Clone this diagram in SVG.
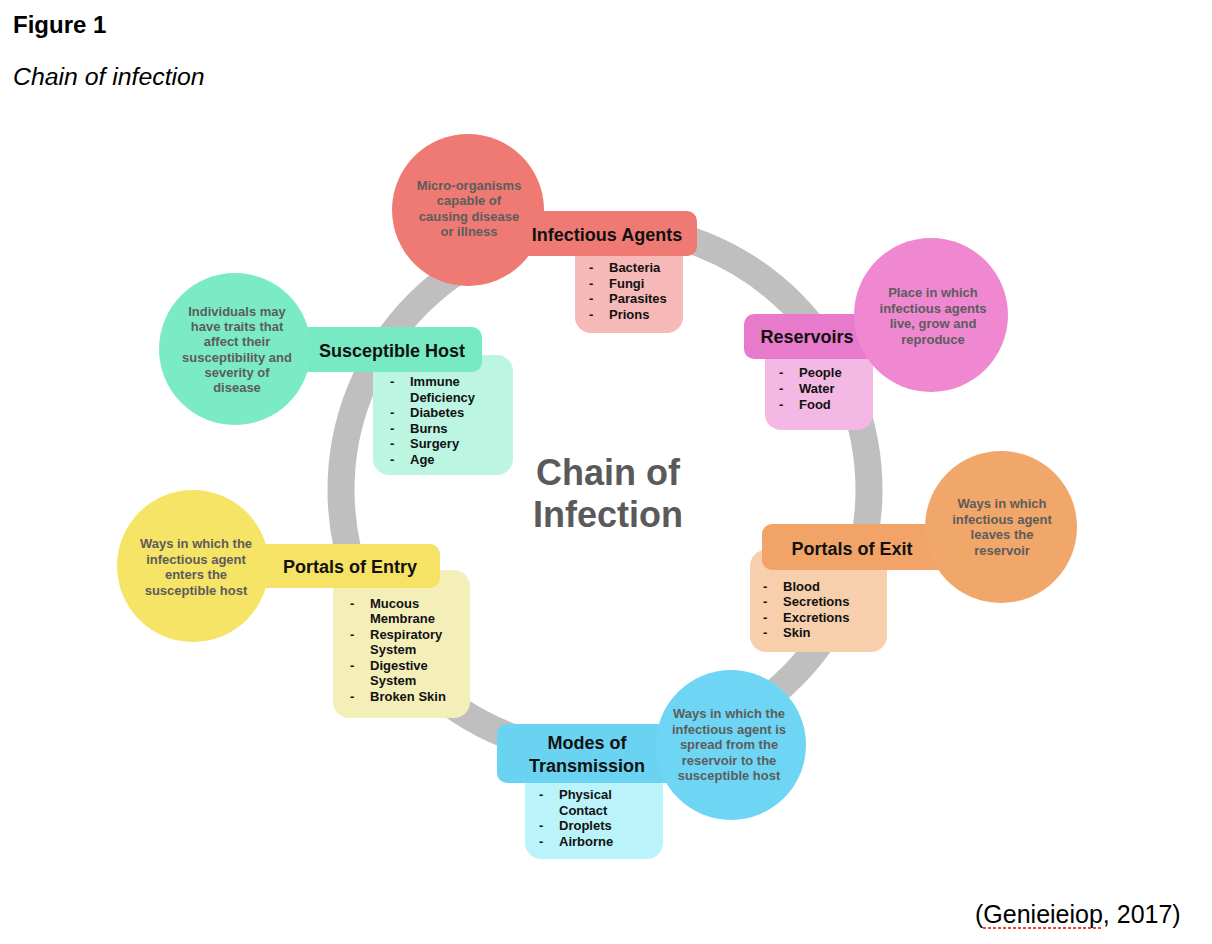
<svg xmlns="http://www.w3.org/2000/svg" width="1212" height="944" viewBox="0 0 1212 944">
<style>
text{font-family:"Liberation Sans",Arial,sans-serif}
.lbl{font-size:18px;font-weight:bold;fill:#111;text-anchor:middle}
.desc{font-size:13px;font-weight:bold;fill:#5c5c5c;text-anchor:middle}
.item{font-size:13px;font-weight:bold;fill:#111}
.hdr{fill:#000}
.center{font-size:36px;font-weight:bold;fill:#5a5a5a;text-anchor:middle}
</style>
<rect width="1212" height="944" fill="#fff"/>
<text class="hdr" x="13" y="33" style="font-size:24px;font-weight:bold">Figure 1</text>
<text class="hdr" x="13" y="85" style="font-size:24.8px;font-style:italic">Chain of infection</text>
<g id="connectors">
<circle cx="605" cy="490" r="264" fill="none" stroke="#BFBFBF" stroke-width="27"/>
</g>
<g id="center-title">
<text class="center" x="608" y="485">Chain of</text>
<text class="center" x="608" y="527">Infection</text>
</g>
<g id="infectious-agents">
<rect x="575" y="240" width="108" height="93" rx="16" fill="#F6B9B7"/>
<rect x="470" y="211" width="227" height="45" rx="10" fill="#EF7A73"/>
<circle cx="468" cy="210" r="76" fill="#EF7A73"/>
<text class="lbl" x="607" y="241">Infectious Agents</text>
<text class="desc"><tspan x="469" y="190">Micro-organisms</tspan><tspan x="469" y="205">capable of</tspan><tspan x="469" y="221">causing disease</tspan><tspan x="469" y="236">or illness</tspan></text>
<text class="item"><tspan x="589" y="272">-</tspan><tspan x="609" y="272">Bacteria</tspan><tspan x="589" y="288">-</tspan><tspan x="609" y="288">Fungi</tspan><tspan x="589" y="303">-</tspan><tspan x="609" y="303">Parasites</tspan><tspan x="589" y="319">-</tspan><tspan x="609" y="319">Prions</tspan></text>
</g>
<g id="reservoirs">
<rect x="765" y="340" width="108" height="90" rx="16" fill="#F3B8E3"/>
<rect x="744" y="314" width="170" height="45" rx="10" fill="#E87ACB"/>
<circle cx="931" cy="315" r="77" fill="#EF88D0"/>
<text class="lbl" x="807" y="343">Reservoirs</text>
<text class="desc"><tspan x="933" y="297">Place in which</tspan><tspan x="933" y="313">infectious agents</tspan><tspan x="933" y="328">live, grow and</tspan><tspan x="933" y="344">reproduce</tspan></text>
<text class="item"><tspan x="779" y="377">-</tspan><tspan x="799" y="377">People</tspan><tspan x="779" y="393">-</tspan><tspan x="799" y="393">Water</tspan><tspan x="779" y="409">-</tspan><tspan x="799" y="409">Food</tspan></text>
</g>
<g id="susceptible-host">
<rect x="373" y="355" width="140" height="120" rx="16" fill="#BCF5E2"/>
<rect x="240" y="327" width="242" height="45" rx="10" fill="#78EAC3"/>
<circle cx="235" cy="349" r="76" fill="#7BEBC6"/>
<text class="lbl" x="392" y="357">Susceptible Host</text>
<text class="desc"><tspan x="237" y="316">Individuals may</tspan><tspan x="237" y="331">have traits that</tspan><tspan x="237" y="346">affect their</tspan><tspan x="237" y="362">susceptibility and</tspan><tspan x="237" y="377">severity of</tspan><tspan x="237" y="392">disease</tspan></text>
<text class="item"><tspan x="390" y="386">-</tspan><tspan x="410" y="386">Immune</tspan><tspan x="410" y="402">Deficiency</tspan><tspan x="390" y="417">-</tspan><tspan x="410" y="417">Diabetes</tspan><tspan x="390" y="433">-</tspan><tspan x="410" y="433">Burns</tspan><tspan x="390" y="448">-</tspan><tspan x="410" y="448">Surgery</tspan><tspan x="390" y="464">-</tspan><tspan x="410" y="464">Age</tspan></text>
</g>
<g id="portals-of-entry">
<rect x="333" y="570" width="137" height="148" rx="16" fill="#F4EEB9"/>
<rect x="195" y="544" width="245" height="44" rx="10" fill="#F6E264"/>
<circle cx="193" cy="566" r="76" fill="#F6E466"/>
<text class="lbl" x="350" y="573">Portals of Entry</text>
<text class="desc"><tspan x="196" y="548">Ways in which the</tspan><tspan x="196" y="564">infectious agent</tspan><tspan x="196" y="579">enters the</tspan><tspan x="196" y="595">susceptible host</tspan></text>
<text class="item"><tspan x="350" y="608">-</tspan><tspan x="370" y="608">Mucous</tspan><tspan x="370" y="623">Membrane</tspan><tspan x="350" y="639">-</tspan><tspan x="370" y="639">Respiratory</tspan><tspan x="370" y="654">System</tspan><tspan x="350" y="670">-</tspan><tspan x="370" y="670">Digestive</tspan><tspan x="370" y="685">System</tspan><tspan x="350" y="701">-</tspan><tspan x="370" y="701">Broken Skin</tspan></text>
</g>
<g id="portals-of-exit">
<rect x="750" y="550" width="137" height="102" rx="16" fill="#F7CFAD"/>
<rect x="762" y="524" width="230" height="46" rx="10" fill="#F2A468"/>
<circle cx="1001" cy="527" r="76" fill="#F2A76A"/>
<text class="lbl" x="852" y="555">Portals of Exit</text>
<text class="desc"><tspan x="1002" y="508">Ways in which</tspan><tspan x="1002" y="524">infectious agent</tspan><tspan x="1002" y="539">leaves the</tspan><tspan x="1002" y="555">reservoir</tspan></text>
<text class="item"><tspan x="763" y="591">-</tspan><tspan x="783" y="591">Blood</tspan><tspan x="763" y="606">-</tspan><tspan x="783" y="606">Secretions</tspan><tspan x="763" y="622">-</tspan><tspan x="783" y="622">Excretions</tspan><tspan x="763" y="637">-</tspan><tspan x="783" y="637">Skin</tspan></text>
</g>
<g id="modes-of-transmission">
<rect x="525" y="765" width="138" height="94" rx="16" fill="#BAF4FA"/>
<rect x="497" y="724" width="230" height="59" rx="10" fill="#6BD3F2"/>
<circle cx="731" cy="745" r="75" fill="#6ED6F4"/>
<text class="lbl"><tspan x="587" y="749">Modes of</tspan><tspan x="587" y="772">Transmission</tspan></text>
<text class="desc"><tspan x="729" y="718">Ways in which the</tspan><tspan x="729" y="734">infectious agent is</tspan><tspan x="729" y="749">spread from the</tspan><tspan x="729" y="765">reservoir to the</tspan><tspan x="729" y="780">susceptible host</tspan></text>
<text class="item"><tspan x="539" y="799">-</tspan><tspan x="559" y="799">Physical</tspan><tspan x="559" y="815">Contact</tspan><tspan x="539" y="830">-</tspan><tspan x="559" y="830">Droplets</tspan><tspan x="539" y="846">-</tspan><tspan x="559" y="846">Airborne</tspan></text>
</g>
<text class="hdr" x="975" y="923" style="font-size:25px">(Genieieiop, 2017)</text>
<line x1="983" y1="928" x2="1102" y2="928" stroke="#E8473F" stroke-width="2" stroke-dasharray="3 2"/>
</svg>
